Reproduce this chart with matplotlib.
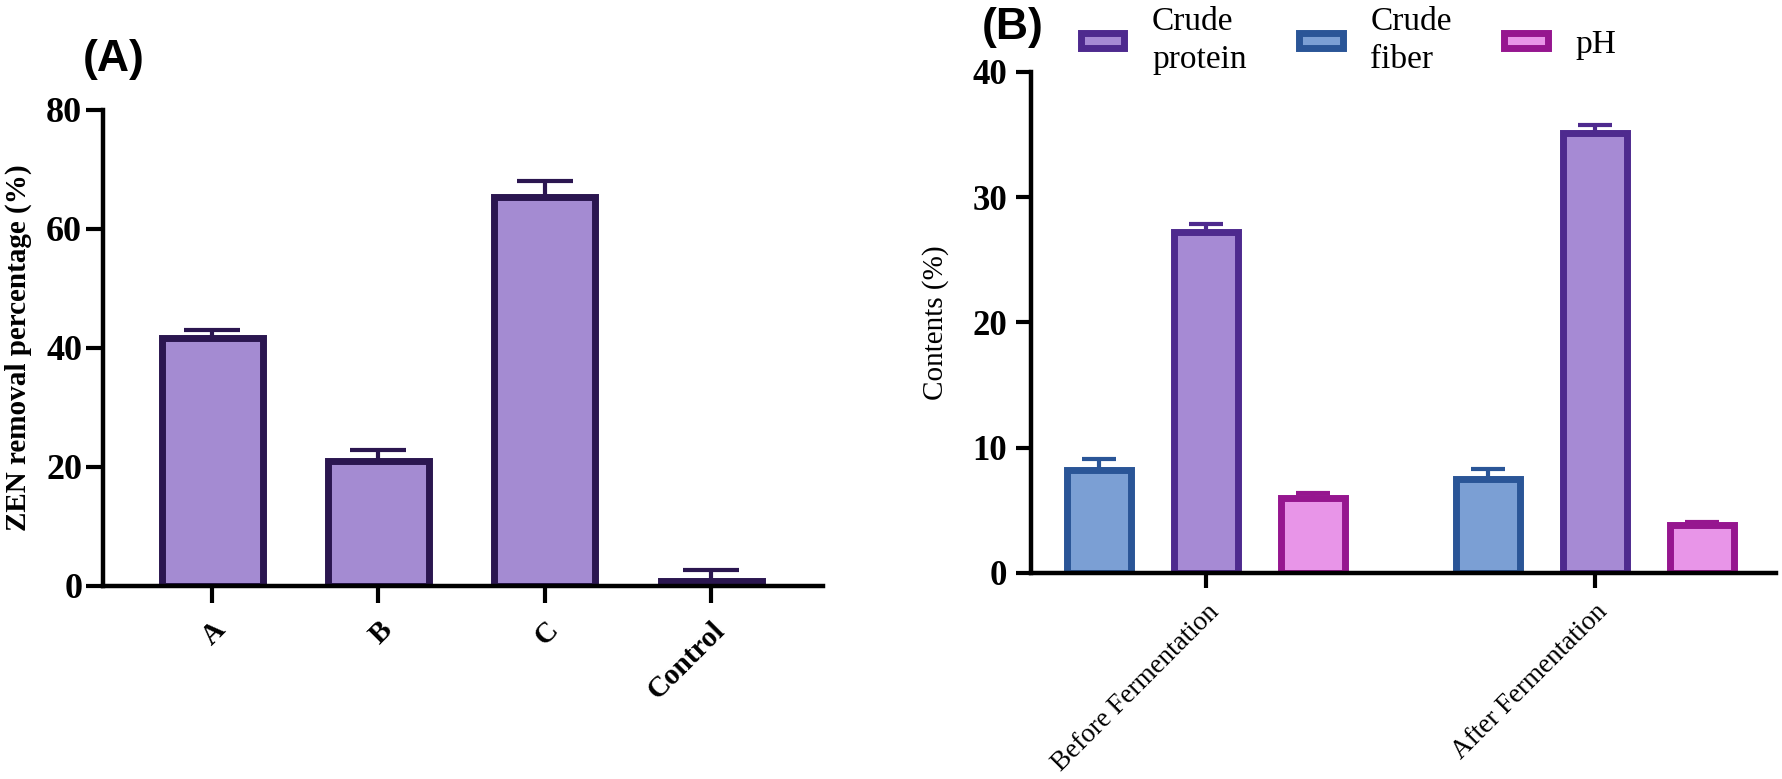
import matplotlib
matplotlib.use('Agg')
import matplotlib.pyplot as plt
import numpy as np
from matplotlib.patches import Patch

plt.rcParams['font.family'] = ['Liberation Serif', 'DejaVu Serif']

# ---------------- Panel A data ----------------
a_categories = ['A', 'B', 'C', 'Control']
a_values = [41.7, 21.0, 65.3, 0.8]
a_errors = [1.3, 1.9, 2.8, 1.8]
a_yticks = [0, 20, 40, 60, 80]

# ---------------- Panel B data ----------------
b_groups = ['Before Fermentation', 'After Fermentation']
b_fiber = [8.2, 7.5]
b_fiber_err = [0.9, 0.8]
b_protein = [27.2, 35.1]
b_protein_err = [0.7, 0.7]
b_ph = [6.0, 3.8]
b_ph_err = [0.4, 0.25]
b_yticks = [0, 10, 20, 30, 40]
legend_labels = ['Crude\nprotein', 'Crude\nfiber', 'pH']

# colours
a_fill, a_edge = '#a48bd2', '#2b1650'
prot_fill, prot_edge = '#a68ad4', '#4e2a8e'
fib_fill, fib_edge = '#7b9fd4', '#2a5597'
ph_fill, ph_edge = '#e895e8', '#96168f'

fig = plt.figure(figsize=(17.83, 7.79), dpi=100)
axA = fig.add_axes([0.0578, 0.2478, 0.4038, 0.611])
axB = fig.add_axes([0.5782, 0.2645, 0.4179, 0.6431])

def style_axis(ax):
    for s in ['top', 'right']:
        ax.spines[s].set_visible(False)
    for s in ['left', 'bottom']:
        ax.spines[s].set_linewidth(3.2)
    ax.tick_params(axis='both', direction='out', length=12, width=3)

# ---------------- Panel A ----------------
xa = np.arange(len(a_categories))
axA.bar(xa, a_values, width=0.607, color=a_fill, edgecolor=a_edge,
        linewidth=5, zorder=2)
axA.errorbar(xa, a_values, yerr=[np.zeros(len(a_values)), a_errors],
             fmt='none', ecolor=a_edge, elinewidth=3, capsize=20,
             capthick=3, zorder=3)
axA.set_xlim(-0.655, 3.673)
axA.set_ylim(0, 80)
axA.set_yticks(a_yticks)
axA.set_xticks(xa)
axA.set_xticklabels(a_categories, rotation=45, ha='right',
                    rotation_mode='anchor', fontsize=21, fontweight='bold')
for lab in axA.get_yticklabels():
    lab.set_fontsize(26)
    lab.set_fontweight('bold')
style_axis(axA)
axA.tick_params(axis='y', pad=3)
axA.tick_params(axis='x', pad=10)
axA.set_ylabel('ZEN removal percentage (%)', fontsize=21, fontweight='bold')
axA.yaxis.set_label_coords(-0.099, 0.5)

# ---------------- Panel B ----------------
xb = np.arange(len(b_groups))
off = 0.275
w = 0.165
series = [
    (xb - off, b_fiber, b_fiber_err, fib_fill, fib_edge),
    (xb, b_protein, b_protein_err, prot_fill, prot_edge),
    (xb + off, b_ph, b_ph_err, ph_fill, ph_edge),
]
for xpos, vals, errs, fc, ec in series:
    axB.bar(xpos, vals, width=w, color=fc, edgecolor=ec, linewidth=5, zorder=2)
    axB.errorbar(xpos, vals, yerr=[np.zeros(len(vals)), errs], fmt='none',
                 ecolor=ec, elinewidth=3, capsize=12.5, capthick=3, zorder=3)
axB.set_xlim(-0.45, 1.465)
axB.set_ylim(0, 40)
axB.set_yticks(b_yticks)
axB.set_xticks(xb)
axB.set_xticklabels(b_groups, rotation=45, ha='right',
                    rotation_mode='anchor', fontsize=19.5)
for lab in axB.get_yticklabels():
    lab.set_fontsize(25)
    lab.set_fontweight('bold')
style_axis(axB)
axB.tick_params(axis='y', length=11, pad=6)
axB.tick_params(axis='x', length=11, pad=8)
axB.set_ylabel('Contents (%)', fontsize=21)
axB.yaxis.set_label_coords(-0.110, 0.5)

handles = [
    Patch(facecolor=prot_fill, edgecolor=prot_edge, linewidth=5),
    Patch(facecolor=fib_fill, edgecolor=fib_edge, linewidth=5),
    Patch(facecolor=ph_fill, edgecolor=ph_edge, linewidth=5),
]
leg = fig.legend(handles, legend_labels, loc='upper left',
                 bbox_to_anchor=(0.6063, 0.992), ncol=3, frameon=False,
                 fontsize=24, handlelength=1.3, handleheight=0.3,
                 handletextpad=0.83, columnspacing=1.58, borderaxespad=0,
                 borderpad=0)
for t in leg.get_texts():
    t.set_linespacing(1.35)

fig.text(83 / 1783, 1 - 60 / 779, '(A)', fontsize=32, fontweight='bold',
         family='Liberation Sans', va='center', ha='left')
fig.text(982 / 1783, 1 - 27 / 779, '(B)', fontsize=32, fontweight='bold',
         family='Liberation Sans', va='center', ha='left')

fig.savefig('out.png', dpi=100)
